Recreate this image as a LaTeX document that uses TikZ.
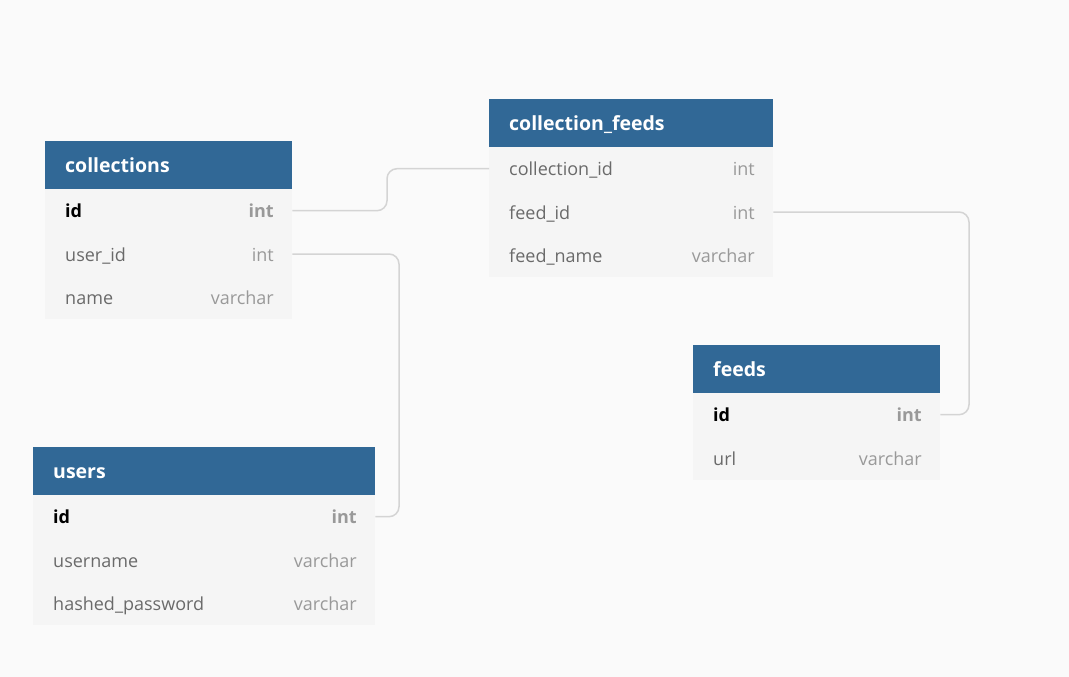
\documentclass[tikz,border=0pt]{standalone}
\usepackage{fontspec}
\setmainfont{Open Sans}
\definecolor{bgc}{HTML}{FAFAFA}
\definecolor{hdrblue}{HTML}{316896}
\definecolor{rowfill}{HTML}{F5F5F5}
\definecolor{namegray}{HTML}{6A6A6A}
\definecolor{typegray}{HTML}{999999}
\definecolor{linegray}{HTML}{D4D4D4}
\begin{document}
\begin{tikzpicture}[x=1pt,y=-1pt,
  hdrbox/.style={fill=hdrblue, draw=none, inner sep=0, minimum height=48, anchor=north west},
  rowbox/.style={fill=rowfill, draw=none, inner sep=0, minimum height=43.4, anchor=west},
  title/.style={anchor=base west, inner sep=0, text=white, font=\fontsize{19.5}{22}\selectfont\bfseries},
  fname/.style={anchor=base west, inner sep=0, text=namegray, font=\fontsize{18}{20}\selectfont},
  ftype/.style={anchor=base east, inner sep=0, text=typegray, font=\fontsize{18}{20}\selectfont},
  pkname/.style={anchor=base west, inner sep=0, text=black, font=\fontsize{18}{20}\selectfont\bfseries},
  pktype/.style={anchor=base east, inner sep=0, text=typegray, font=\fontsize{18}{20}\selectfont\bfseries},
  conn/.style={draw=linegray, line width=1.5pt, rounded corners=10}
]
\fill[bgc] (0,0) rectangle (1069,677);
\useasboundingbox (0,0) rectangle (1069,677);

% collections
\node[hdrbox, minimum width=247] (colH) at (45,141) {};
\node[title] (colT) at (65,172) {collections};
\node[rowbox, minimum width=247] (colid) at (45,210.7) {};
\node[rowbox, minimum width=247] (coluid) at (45,254) {};
\node[rowbox, minimum width=247] (colname) at (45,297.4) {};
\node[pkname] (colidN) at (65,217.7) {id};
\node[pktype] (colidT) at (274,217.7) {int};
\node[fname] (coluidN) at (65,261) {user\_id};
\node[ftype] (coluidT) at (274,261) {int};
\node[fname] (colnameN) at (65,304.4) {name};
\node[ftype] (colnameT) at (274,304.4) {varchar};

% collection_feeds
\node[hdrbox, minimum width=284] (cfH) at (489,99) {};
\node[title] (cfT) at (509,130) {collection\_feeds};
\node[rowbox, minimum width=284] (cfcid) at (489,168.7) {};
\node[rowbox, minimum width=284] (cffid) at (489,212) {};
\node[rowbox, minimum width=284] (cffname) at (489,255.4) {};
\node[fname] (cfcidN) at (509,175.7) {collection\_id};
\node[ftype] (cfcidT) at (755,175.7) {int};
\node[fname] (cffidN) at (509,219) {feed\_id};
\node[ftype] (cffidT) at (755,219) {int};
\node[fname] (cffnameN) at (509,262.4) {feed\_name};
\node[ftype] (cffnameT) at (755,262.4) {varchar};

% feeds
\node[hdrbox, minimum width=247] (fdH) at (693,345) {};
\node[title] (fdT) at (713,376) {feeds};
\node[rowbox, minimum width=247] (fdid) at (693,414.7) {};
\node[rowbox, minimum width=247] (fdurl) at (693,458) {};
\node[pkname] (fdidN) at (713,421.7) {id};
\node[pktype] (fdidT) at (922,421.7) {int};
\node[fname] (fdurlN) at (713,465) {url};
\node[ftype] (fdurlT) at (922,465) {varchar};

% users
\node[hdrbox, minimum width=342] (usH) at (33,447) {};
\node[title] (usT) at (53,478) {users};
\node[rowbox, minimum width=342] (usid) at (33,516.7) {};
\node[rowbox, minimum width=342] (usname) at (33,560) {};
\node[rowbox, minimum width=342] (uspw) at (33,603.4) {};
\node[pkname] (usidN) at (53,523.7) {id};
\node[pktype] (usidT) at (357,523.7) {int};
\node[fname] (usnameN) at (53,567) {username};
\node[ftype] (usnameT) at (357,567) {varchar};
\node[fname] (uspwN) at (53,610.4) {hashed\_password};
\node[ftype] (uspwT) at (357,610.4) {varchar};

% connectors
\coordinate (m1) at (387,0);
\coordinate (m2) at (399,0);
\coordinate (m3) at (969,0);
\draw[conn] (colid.east) -- (colid.east -| m1) |- (cfcid.west);
\draw[conn] (coluid.east) -- (coluid.east -| m2) |- (usid.east);
\draw[conn] (cffid.east) -- (cffid.east -| m3) |- (fdid.east);
\end{tikzpicture}
\end{document}
